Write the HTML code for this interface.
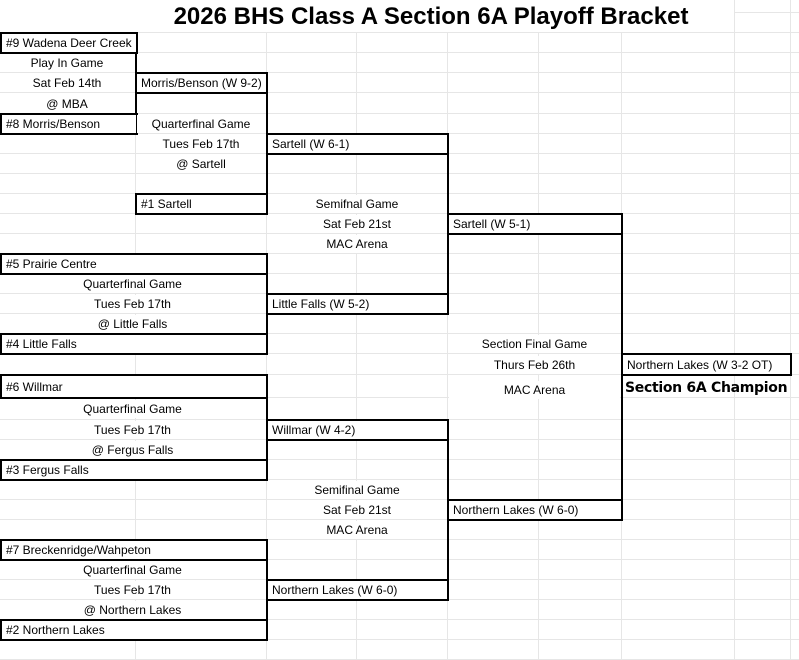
<!DOCTYPE html>
<html><head><meta charset="utf-8"><style>
body{margin:0;width:799px;height:660px;background:#fff;position:relative;overflow:hidden;font-family:"Liberation Sans",Arial,sans-serif;font-size:12px;color:#000}
.g{position:absolute;background:#e6e6e6}
.b{position:absolute;border:2px solid #000;box-sizing:border-box;background:#fff;padding-left:4px;white-space:nowrap;display:flex;align-items:center}
.v{position:absolute;width:2px;background:#000}
.t{position:absolute;text-align:center;display:flex;align-items:center;justify-content:center;white-space:nowrap;background:#fff}
.title{position:absolute;left:0;width:862px;top:3px;text-align:center;font-weight:bold;font-size:24px}
.champ{position:absolute;left:625px;top:380px;font-weight:bold;font-size:14px;font-family:"DejaVu Sans","Liberation Sans",sans-serif;letter-spacing:-0.3px}
</style></head><body>
<div id="grid"></div>
<script>
var rows=[33,53,73,93,114,134,154,174,194,214,234,254,274,294,314,334,354,375,398,420,440,460,480,500,520,540,560,580,600,620,640,660];
var cols=[136,267,357,448,539,622,735,791];
var h='';
rows.forEach(function(y){h+='<div class="g" style="left:0;width:799px;top:'+(y-1)+'px;height:1px"></div>';});
h+='<div class="g" style="left:735px;width:64px;top:12px;height:1px"></div>';
cols.forEach(function(x){var top=(x>=735)?0:33;h+='<div class="g" style="left:'+(x-1)+'px;width:1px;top:'+top+'px;height:'+(660-top)+'px"></div>';});
document.getElementById('grid').innerHTML=h;
</script>
<div class="title">2026 BHS Class A Section 6A Playoff Bracket</div>

<div class="v" style="left:135px;top:53px;height:62px"></div>
<div class="v" style="left:266px;top:92px;height:103px"></div>
<div class="v" style="left:447px;top:153px;height:142px"></div>
<div class="v" style="left:621px;top:233px;height:268px"></div>
<div class="v" style="left:266px;top:273px;height:62px"></div>
<div class="v" style="left:266px;top:397px;height:64px"></div>
<div class="v" style="left:447px;top:439px;height:142px"></div>
<div class="v" style="left:266px;top:559px;height:62px"></div>

<div class="b" style="left:0;top:32px;width:138px;height:22px">#9 Wadena Deer Creek</div>
<div class="b" style="left:0;top:113px;width:138px;height:22px">#8 Morris/Benson</div>
<div class="b" style="left:135px;top:72px;width:133px;height:22px">Morris/Benson (W 9-2)</div>
<div class="b" style="left:135px;top:193px;width:133px;height:22px">#1 Sartell</div>
<div class="b" style="left:266px;top:133px;width:183px;height:22px">Sartell (W 6-1)</div>
<div class="b" style="left:447px;top:213px;width:176px;height:22px">Sartell (W 5-1)</div>
<div class="b" style="left:0;top:253px;width:268px;height:22px">#5 Prairie Centre</div>
<div class="b" style="left:0;top:333px;width:268px;height:22px">#4 Little Falls</div>
<div class="b" style="left:266px;top:293px;width:183px;height:22px">Little Falls (W 5-2)</div>
<div class="b" style="left:621px;top:353px;width:171px;height:23px">Northern Lakes (W 3-2 OT)</div>
<div class="b" style="left:0;top:374px;width:268px;height:25px">#6 Willmar</div>
<div class="b" style="left:0;top:459px;width:268px;height:22px">#3 Fergus Falls</div>
<div class="b" style="left:266px;top:419px;width:183px;height:22px">Willmar (W 4-2)</div>
<div class="b" style="left:447px;top:499px;width:176px;height:22px">Northern Lakes (W 6-0)</div>
<div class="b" style="left:0;top:539px;width:268px;height:22px">#7 Breckenridge/Wahpeton</div>
<div class="b" style="left:0;top:619px;width:268px;height:22px">#2 Northern Lakes</div>
<div class="b" style="left:266px;top:579px;width:183px;height:22px">Northern Lakes (W 6-0)</div>

<div class="t" style="left:0;width:134px;top:54px;height:18px">Play In Game</div>
<div class="t" style="left:0;width:134px;top:74px;height:18px">Sat Feb 14th</div>
<div class="t" style="left:0;width:134px;top:94px;height:19px">@ MBA</div>

<div class="t" style="left:137px;width:128px;top:115px;height:18px">Quarterfinal Game</div>
<div class="t" style="left:137px;width:128px;top:135px;height:18px">Tues Feb 17th</div>
<div class="t" style="left:137px;width:128px;top:155px;height:18px">@ Sartell</div>

<div class="t" style="left:268px;width:178px;top:195px;height:18px">Semifnal Game</div>
<div class="t" style="left:268px;width:178px;top:215px;height:18px">Sat Feb 21st</div>
<div class="t" style="left:268px;width:178px;top:235px;height:18px">MAC Arena</div>

<div class="t" style="left:0;width:265px;top:275px;height:18px">Quarterfinal Game</div>
<div class="t" style="left:0;width:265px;top:295px;height:18px">Tues Feb 17th</div>
<div class="t" style="left:0;width:265px;top:315px;height:18px">@ Little Falls</div>

<div class="t" style="left:449px;width:171px;top:335px;height:18px">Section Final Game</div>
<div class="t" style="left:449px;width:171px;top:356px;height:18px">Thurs Feb 26th</div>
<div class="t" style="left:449px;width:171px;top:381px;height:18px">MAC Arena</div>
<div class="champ">Section 6A Champion</div>

<div class="t" style="left:0;width:265px;top:400px;height:18px">Quarterfinal Game</div>
<div class="t" style="left:0;width:265px;top:421px;height:18px">Tues Feb 17th</div>
<div class="t" style="left:0;width:265px;top:441px;height:18px">@ Fergus Falls</div>

<div class="t" style="left:268px;width:178px;top:481px;height:18px">Semifinal Game</div>
<div class="t" style="left:268px;width:178px;top:501px;height:18px">Sat Feb 21st</div>
<div class="t" style="left:268px;width:178px;top:521px;height:18px">MAC Arena</div>

<div class="t" style="left:0;width:265px;top:561px;height:18px">Quarterfinal Game</div>
<div class="t" style="left:0;width:265px;top:581px;height:18px">Tues Feb 17th</div>
<div class="t" style="left:0;width:265px;top:601px;height:18px">@ Northern Lakes</div>
</body></html>
